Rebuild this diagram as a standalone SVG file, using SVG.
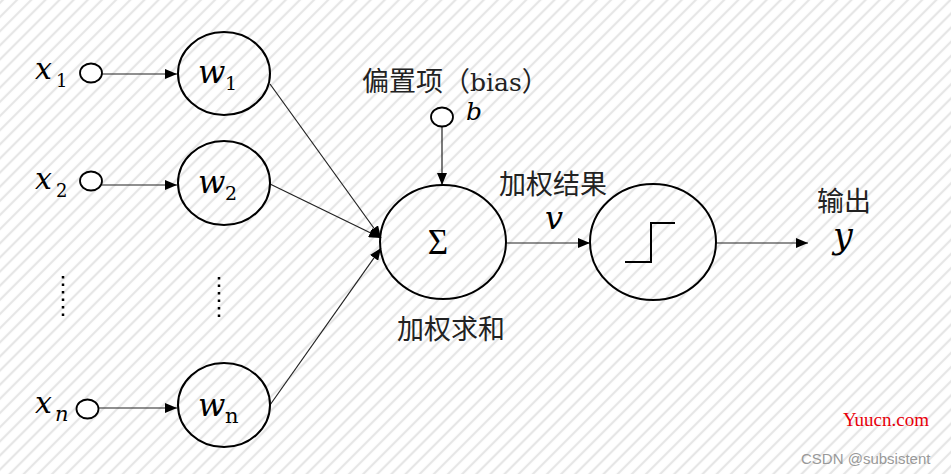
<svg xmlns="http://www.w3.org/2000/svg" width="951" height="474" viewBox="0 0 951 474">
<defs>
<pattern id="stripes" width="10" height="10" patternUnits="userSpaceOnUse" patternTransform="rotate(45)">
<rect width="10" height="10" fill="#ffffff"/>
<line x1="2" y1="0" x2="2" y2="10" stroke="#e6e6e6" stroke-width="2.2"/>
</pattern>
<marker id="arr" viewBox="0 0 12 10" refX="12" refY="5" markerWidth="12" markerHeight="10" markerUnits="userSpaceOnUse" orient="auto">
<path d="M0,0 L12,5 L0,10 Z" fill="#000"/>
</marker>
</defs>
<style>
.node{fill:none;stroke:#000;stroke-width:2}
.small{fill:#fff;stroke:#000;stroke-width:1.8}
.edge{stroke:#222;stroke-width:1.2;fill:none;marker-end:url(#arr)}
.math{font-family:"DejaVu Serif","Liberation Serif",serif;font-style:italic;fill:#000}
.sub{font-family:"DejaVu Serif","Liberation Serif",serif;fill:#000}
.cjk{font-family:"Noto Sans CJK SC","Noto Sans",sans-serif;fill:#222;font-size:27px}
.dots{stroke:#000;stroke-width:2.5;stroke-dasharray:2.5 5}
</style>
<rect width="951" height="474" fill="url(#stripes)"/>

<g id="connectors">
<line class="edge" x1="102" y1="74" x2="177" y2="74"/>
<line class="edge" x1="102" y1="185" x2="177" y2="185"/>
<line class="edge" x1="99" y1="408" x2="177" y2="408"/>
<line class="edge" x1="270" y1="84" x2="381" y2="238"/>
<line class="edge" x1="270" y1="184" x2="381" y2="238"/>
<line class="edge" x1="270" y1="405" x2="381" y2="248"/>
<line class="edge" x1="442" y1="127" x2="442" y2="185"/>
<line class="edge" x1="506" y1="243" x2="590" y2="243"/>
<line class="edge" x1="716" y1="243" x2="808" y2="243"/>
</g>

<g id="x1">
<ellipse class="small" cx="91" cy="73" rx="11" ry="9.5"/>
<text class="math" x="35" y="79" font-size="30">x</text>
<text class="sub" x="56" y="87" font-size="18">1</text>
</g>
<g id="x2">
<ellipse class="small" cx="91" cy="181" rx="11" ry="9.5"/>
<text class="math" x="35" y="189" font-size="30">x</text>
<text class="sub" x="56" y="197" font-size="18">2</text>
</g>
<g id="xn">
<ellipse class="small" cx="87.5" cy="409" rx="11" ry="9.5"/>
<text class="math" x="35" y="413" font-size="30">x</text>
<text class="math" x="55" y="421" font-size="21">n</text>
</g>
<g id="dots">
<line class="dots" x1="63" y1="276" x2="63" y2="318"/>
<line class="dots" x1="219" y1="277" x2="219" y2="318"/>
</g>
<g id="w1">
<ellipse class="node" cx="224" cy="73.5" rx="46" ry="41.5"/>
<text class="math" x="198" y="83" font-size="32">w</text>
<text class="sub" x="225" y="90" font-size="19">1</text>
</g>
<g id="w2">
<ellipse class="node" cx="224" cy="183" rx="46" ry="42"/>
<text class="math" x="198" y="193" font-size="32">w</text>
<text class="sub" x="225" y="200" font-size="19">2</text>
</g>
<g id="wn">
<ellipse class="node" cx="224" cy="405" rx="46" ry="42"/>
<text class="math" x="198" y="416" font-size="32">w</text>
<text class="sub" x="225" y="423" font-size="21">n</text>
</g>
<g id="bias">
<text class="cjk" x="362" y="91">偏置项（<tspan font-family="DejaVu Serif, serif" font-size="25">bias</tspan>）</text>
<ellipse class="small" cx="442" cy="117" rx="11" ry="9.5"/>
<text class="math" x="466" y="120" font-size="25">b</text>
</g>
<g id="sum">
<ellipse class="node" cx="443" cy="242" rx="63" ry="57"/>
<text x="438" y="254" font-size="35" text-anchor="middle" font-family="Liberation Serif, DejaVu Serif, serif">Σ</text>
<text class="cjk" x="397" y="339">加权求和</text>
</g>
<g id="v">
<text class="cjk" x="499" y="194">加权结果</text>
<text class="math" x="545" y="229" font-size="32">v</text>
</g>
<g id="step">
<ellipse class="node" cx="653" cy="242" rx="63" ry="58"/>
<path d="M625,262 H651 V223 H675" fill="none" stroke="#000" stroke-width="2"/>
</g>
<g id="output">
<text class="cjk" x="817" y="211">输出</text>
<text class="math" x="833" y="248" font-size="35">y</text>
</g>
<g id="watermark">
<text x="843" y="426" font-family="Liberation Serif, serif" font-size="19" fill="#e8000b">Yuucn.com</text>
<text x="801" y="464" font-family="Liberation Sans, sans-serif" font-size="15" fill="#999">CSDN @subsistent</text>
</g>
</svg>
